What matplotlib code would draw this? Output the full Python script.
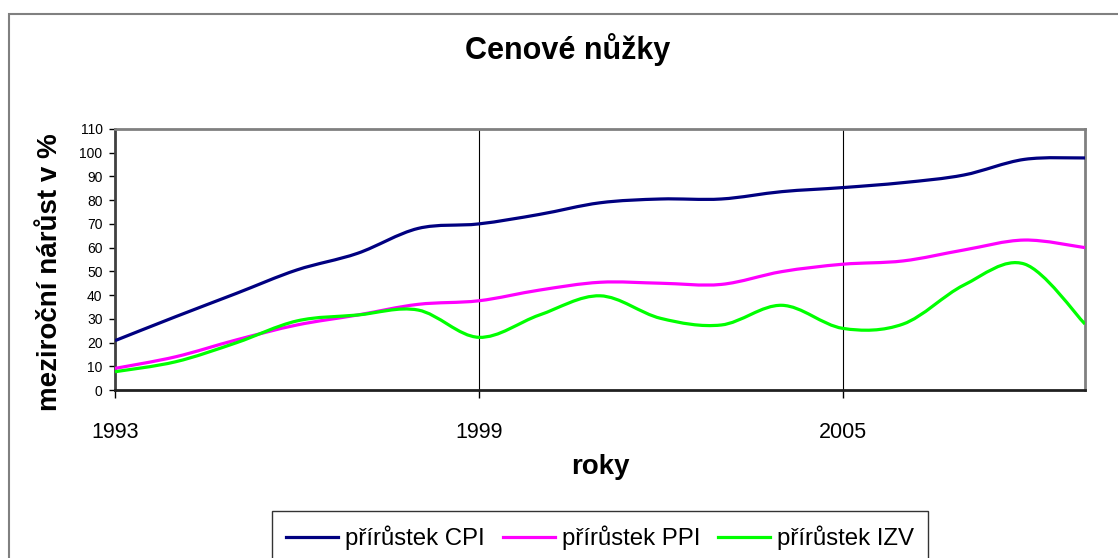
import matplotlib
matplotlib.use("Agg")
import matplotlib.pyplot as plt
from matplotlib.path import Path
from matplotlib.patches import PathPatch, Rectangle
from matplotlib.lines import Line2D

plt.rcParams['font.family'] = ['Liberation Sans', 'DejaVu Sans']

years = list(range(1993, 2010))
cpi = [20.8, 30.9, 40.7, 50.6, 57.6, 68.1, 70.0, 74.0, 78.9, 80.5, 80.5, 83.6, 85.3, 87.4, 90.6, 97.2, 97.8]
ppi = [9.1, 14.0, 21.1, 27.4, 31.6, 36.1, 37.6, 42.1, 45.4, 45.0, 44.5, 49.9, 53.0, 54.4, 59.0, 63.2, 60.0]
izv = [7.7, 11.9, 19.9, 29.1, 31.6, 33.7, 22.2, 31.6, 39.7, 30.2, 27.4, 35.7, 26.0, 27.8, 44.2, 53.1, 27.8]
series_names = ['přírůstek CPI', 'přírůstek PPI', 'přírůstek IZV']
colors = ['#000080', '#FF00FF', '#00FF00']
xticks = [1993, 1999, 2005]
yticks = list(range(0, 111, 10))

W, H = 1118, 558
fig = plt.figure(figsize=(W / 100, H / 100), dpi=100)
ax = fig.add_axes([115 / W, 1 - 390 / H, (1085 - 115) / W, (390 - 129) / H])


def smooth_path(xs, ys):
    """Excel-like smoothed line: cubic Bezier through the data points."""
    pts = list(zip(xs, ys))
    n = len(pts)
    verts = [pts[0]]
    codes = [Path.MOVETO]
    for i in range(n - 1):
        p0 = pts[i - 1] if i > 0 else pts[i]
        p1 = pts[i]
        p2 = pts[i + 1]
        p3 = pts[i + 2] if i + 2 < n else pts[i + 1]
        c1 = (p1[0] + (p2[0] - p0[0]) / 6, p1[1] + (p2[1] - p0[1]) / 6)
        c2 = (p2[0] - (p3[0] - p1[0]) / 6, p2[1] - (p3[1] - p1[1]) / 6)
        verts += [c1, c2, p2]
        codes += [Path.CURVE4] * 3
    return Path(verts, codes)


handles = []
for vals, col, name in zip([cpi, ppi, izv], colors, series_names):
    patch = PathPatch(smooth_path(years, vals), facecolor='none', edgecolor=col,
                      lw=2.3, zorder=3, capstyle='butt', joinstyle='round')
    ax.add_patch(patch)
    handles.append(Line2D([], [], color=col, lw=2.3, label=name))

ax.set_xlim(1993, 2009)
ax.set_ylim(0, 110)
ax.set_xticks(xticks)
ax.set_xticklabels([str(x) for x in xticks], fontsize=15.5)
ax.set_yticks(yticks)
ax.set_yticklabels([str(y) for y in yticks], fontsize=10)
ax.tick_params(axis='y', direction='out', length=4, width=1, pad=5, color='black')
ax.tick_params(axis='x', direction='out', length=6, width=1, pad=17, color='black')
ax.xaxis.grid(True, color='black', lw=0.8)
ax.yaxis.grid(False)
ax.set_axisbelow(True)

for side in ['top', 'right']:
    ax.spines[side].set_color('#808080')
    ax.spines[side].set_linewidth(2)
ax.spines['left'].set_color('#404040')
ax.spines['left'].set_linewidth(2)
ax.spines['bottom'].set_color('#202020')
ax.spines['bottom'].set_linewidth(2)

ax.set_xlabel('roky', fontsize=20, fontweight='bold', labelpad=8)
fig.text(568 / W, 1 - 50 / H, 'Cenové nůžky', fontsize=22, fontweight='bold',
         ha='center', va='center')
fig.text(50 / W, 1 - 272 / H, 'meziroční nárůst v %', fontsize=20, fontweight='bold',
         rotation=90, ha='center', va='center')

# outer chart border (top and left visible)
fig.patches.append(Rectangle((9 / W, -0.2), 1.2, 1.2 - 14 / H, transform=fig.transFigure,
                             fill=False, edgecolor='#808080', lw=1.5, clip_on=False))

leg = fig.legend(handles=handles, loc='upper left', bbox_to_anchor=(272 / W, 1 - 511 / H),
                 ncol=3, fontsize=17.3, frameon=True, fancybox=False, shadow=False,
                 borderaxespad=0, handlelength=2.15, handletextpad=0.3, columnspacing=0.75,
                 borderpad=0.6)
leg.get_frame().set_edgecolor('black')
leg.get_frame().set_linewidth(1)

fig.savefig('out.png', dpi=100)
